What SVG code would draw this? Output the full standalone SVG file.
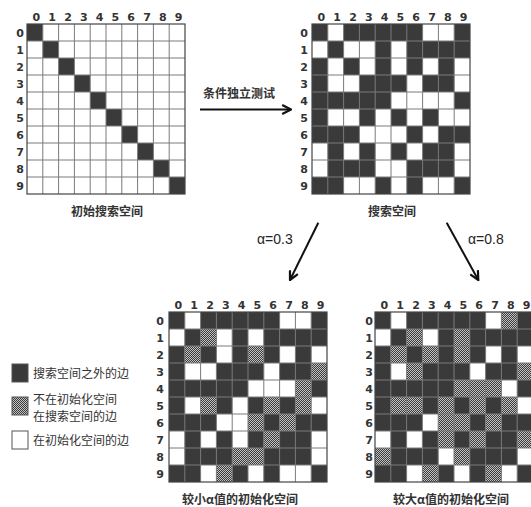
<svg xmlns="http://www.w3.org/2000/svg" width="531" height="507" viewBox="0 0 531 507">
<style>
.bg{fill:#ffffff}
.dk{fill:#3a3a3a}
.gr{fill:url(#dither)}
.ln{fill:none;stroke:#7a7a7a;stroke-width:1}
.bd{fill:none;stroke:#444;stroke-width:1.2}
.num{font-family:"DejaVu Sans",sans-serif;font-weight:bold;font-size:11px;fill:#333;text-anchor:middle}
.cap{font-family:"Noto Sans CJK SC",sans-serif;font-weight:bold;font-size:12px;fill:#333;text-anchor:middle}
.leg{font-family:"Noto Sans CJK SC",sans-serif;font-size:12px;fill:#333}
.alab{font-family:"Liberation Sans","Noto Sans CJK SC",sans-serif;font-size:14px;fill:#222}
.arr{fill:none;stroke:#111;stroke-width:2;marker-end:url(#head)}
</style>
<defs>
<pattern id="dither" width="2" height="2" patternUnits="userSpaceOnUse">
<rect width="2" height="2" fill="#c4c4c4"/>
<rect width="1" height="1" fill="#3a3a3a"/>
<rect x="1" y="1" width="1" height="1" fill="#3a3a3a"/>
</pattern>
<marker id="head" viewBox="0 0 10 10" refX="9" refY="5" markerWidth="11" markerHeight="11" markerUnits="userSpaceOnUse" orient="auto">
<path d="M1,1 L9,5 L1,9" fill="none" stroke="#111" stroke-width="2"/>
</marker>
<path id="lines" class="ln" d="M15.8 0V170M31.6 0V170M47.4 0V170M63.2 0V170M79 0V170M94.8 0V170M110.6 0V170M126.4 0V170M142.2 0V170M0 17H158M0 34H158M0 51H158M0 68H158M0 85H158M0 102H158M0 119H158M0 136H158M0 153H158"/>
<path id="darkset" class="dk" d="M0 0h15.8v17h-15.8zM31.6 0h79v17h-79zM142.2 0h15.8v17h-15.8zM15.8 17h15.8v17h-15.8zM63.2 17h15.8v17h-15.8zM94.8 17h63.2v17h-63.2zM0 34h15.8v17h-15.8zM31.6 34h15.8v17h-15.8zM63.2 34h15.8v17h-15.8zM94.8 34h15.8v17h-15.8zM126.4 34h15.8v17h-15.8zM0 51h15.8v17h-15.8zM47.4 51h47.4v17h-47.4zM110.6 51h31.6v17h-31.6zM0 68h79v17h-79zM142.2 68h15.8v17h-15.8zM0 85h15.8v17h-15.8zM47.4 85h15.8v17h-15.8zM79 85h15.8v17h-15.8zM110.6 85h15.8v17h-15.8zM0 102h47.4v17h-47.4zM94.8 102h15.8v17h-15.8zM126.4 102h31.6v17h-31.6zM15.8 119h15.8v17h-15.8zM47.4 119h15.8v17h-15.8zM79 119h15.8v17h-15.8zM110.6 119h31.6v17h-31.6zM15.8 136h47.4v17h-47.4zM94.8 136h47.4v17h-47.4zM0 153h31.6v17h-31.6zM63.2 153h15.8v17h-15.8zM94.8 153h15.8v17h-15.8zM142.2 153h15.8v17h-15.8z"/>
</defs>

<g id="grid-initial" transform="translate(27,24)">
<rect class="bg" width="158" height="170"/>
<path class="dk" d="M0 0h15.8v17h-15.8zM15.8 17h15.8v17h-15.8zM31.6 34h15.8v17h-15.8zM47.4 51h15.8v17h-15.8zM63.2 68h15.8v17h-15.8zM79 85h15.8v17h-15.8zM94.8 102h15.8v17h-15.8zM110.6 119h15.8v17h-15.8zM126.4 136h15.8v17h-15.8zM142.2 153h15.8v17h-15.8z"/>
<use href="#lines"/>
<rect class="bd" width="158" height="170"/>
<text class="num" x="9.4 25.2 41 56.8 72.6 88.4 104.2 120 135.8 151.6" y="-3">0123456789</text>
<text class="num" x="-7 -7 -7 -7 -7 -7 -7 -7 -7 -7" y="12.5 29.5 46.5 63.5 80.5 97.5 114.5 131.5 148.5 165.5">0123456789</text>
<text class="cap" x="80" y="192">初始搜索空间</text>
</g>

<g id="grid-search" transform="translate(312,24)">
<rect class="bg" width="158" height="170"/>
<use href="#darkset"/>
<use href="#lines"/>
<rect class="bd" width="158" height="170"/>
<text class="num" x="9.4 25.2 41 56.8 72.6 88.4 104.2 120 135.8 151.6" y="-3">0123456789</text>
<text class="num" x="-8 -8 -8 -8 -8 -8 -8 -8 -8 -8" y="12.5 29.5 46.5 63.5 80.5 97.5 114.5 131.5 148.5 165.5">0123456789</text>
<text class="cap" x="80" y="192">搜索空间</text>
</g>

<g id="grid-small-alpha" transform="translate(169,312)">
<rect class="bg" width="158" height="170"/>
<use href="#darkset"/>
<path class="gr" d="M31.6 17h15.8v17h-15.8zM15.8 34h15.8v17h-15.8zM79 34h15.8v17h-15.8zM142.2 51h15.8v17h-15.8zM126.4 68h15.8v17h-15.8zM31.6 85h15.8v17h-15.8zM94.8 85h15.8v17h-15.8zM126.4 85h15.8v17h-15.8zM79 102h15.8v17h-15.8zM110.6 102h15.8v17h-15.8zM94.8 119h15.8v17h-15.8zM63.2 136h31.6v17h-31.6zM47.4 153h15.8v17h-15.8z"/>
<use href="#lines"/>
<rect class="bd" width="158" height="170"/>
<text class="num" x="9.4 25.2 41 56.8 72.6 88.4 104.2 120 135.8 151.6" y="-3">0123456789</text>
<text class="num" x="-9 -9 -9 -9 -9 -9 -9 -9 -9 -9" y="12.5 29.5 46.5 63.5 80.5 97.5 114.5 131.5 148.5 165.5">0123456789</text>
<text class="cap" x="71" y="192">较小α值的初始化空间</text>
</g>

<g id="grid-large-alpha" transform="translate(375,312)">
<rect class="bg" width="158" height="170"/>
<use href="#darkset"/>
<path class="gr" d="M126.4 0h15.8v17h-15.8zM31.6 17h15.8v17h-15.8zM79 17h15.8v17h-15.8zM15.8 34h15.8v17h-15.8zM47.4 34h15.8v17h-15.8zM79 34h15.8v17h-15.8zM31.6 51h15.8v17h-15.8zM142.2 51h15.8v17h-15.8zM79 68h47.4v17h-47.4zM15.8 85h31.6v17h-31.6zM63.2 85h15.8v17h-15.8zM94.8 85h15.8v17h-15.8zM126.4 85h15.8v17h-15.8zM63.2 102h31.6v17h-31.6zM110.6 102h15.8v17h-15.8zM63.2 119h15.8v17h-15.8zM94.8 119h15.8v17h-15.8zM142.2 119h15.8v17h-15.8zM0 136h15.8v17h-15.8zM79 136h15.8v17h-15.8zM47.4 153h15.8v17h-15.8zM110.6 153h15.8v17h-15.8z"/>
<use href="#lines"/>
<rect class="bd" width="158" height="170"/>
<text class="num" x="9.4 25.2 41 56.8 72.6 88.4 104.2 120 135.8 151.6" y="-3">0123456789</text>
<text class="num" x="-6 -6 -6 -6 -6 -6 -6 -6 -6 -6" y="12.5 29.5 46.5 63.5 80.5 97.5 114.5 131.5 148.5 165.5">0123456789</text>
<text class="cap" x="76" y="192">较大α值的初始化空间</text>
</g>

<g id="legend">
<g id="legend-outside">
<rect class="dk" x="12" y="364" width="16" height="18" stroke="#555" stroke-width="1"/>
<text class="leg" x="33" y="378">搜索空间之外的边</text>
</g>
<g id="legend-search">
<rect class="gr" x="12" y="397" width="16" height="18" stroke="#555" stroke-width="1"/>
<text class="leg" x="33" y="404">不在初始化空间</text>
<text class="leg" x="33" y="421">在搜索空间的边</text>
</g>
<g id="legend-initial">
<rect class="bg" x="12" y="431" width="16" height="18" stroke="#555" stroke-width="1"/>
<text class="leg" x="33" y="445">在初始化空间的边</text>
</g>
</g>

<g id="connectors">
<line class="arr" x1="200" y1="109.5" x2="291" y2="109.5"/>
<text class="cap" x="239" y="98">条件独立测试</text>
<line class="arr" x1="318.3" y1="222.7" x2="290" y2="280"/>
<text class="alab" x="257" y="244">α=0.3</text>
<line class="arr" x1="446.7" y1="222.7" x2="478.3" y2="280"/>
<text class="alab" x="468" y="244">α=0.8</text>
</g>
</svg>
